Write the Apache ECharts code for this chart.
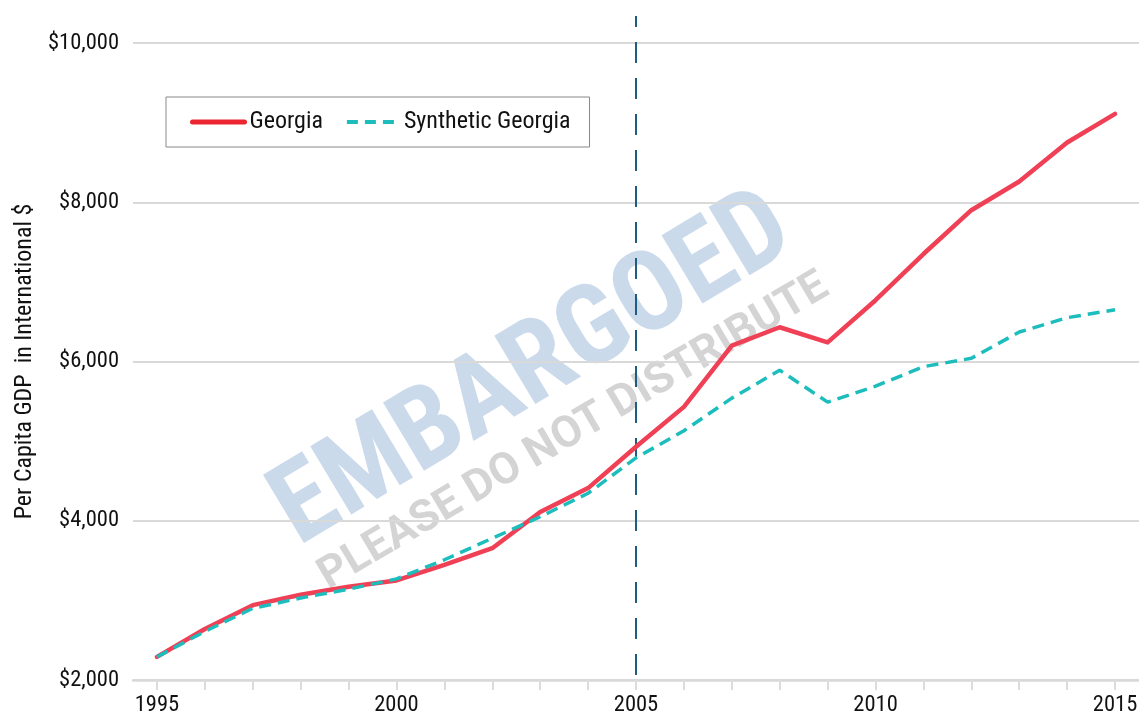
<!DOCTYPE html>
<html>
<head>
<meta charset="utf-8">
<script src="https://cdn.jsdelivr.net/npm/echarts@6/dist/echarts.min.js"></script>
<style>
html,body{margin:0;padding:0;background:#fff;}
#chart{width:1139px;height:720px;}
</style>
</head>
<body>
<div id="chart"></div>
<script>
const years = ['1995','1996','1997','1998','1999','2000','2001','2002','2003','2004','2005','2006','2007','2008','2009','2010','2011','2012','2013','2014','2015'];
const georgia = [2290, 2640, 2940, 3070, 3170, 3250, 3445, 3655, 4110, 4410, 4930, 5430, 6200, 6430, 6240, 6770, 7350, 7900, 8260, 8750, 9110];
const synthetic = [2290, 2610, 2900, 3030, 3140, 3270, 3510, 3780, 4050, 4345, 4790, 5130, 5540, 5890, 5490, 5690, 5935, 6040, 6370, 6550, 6650];
const treatmentYear = '2005';
const yTicks = [2000, 4000, 6000, 8000, 10000];

const FONT = "'Roboto Condensed', 'Liberation Sans Narrow', 'DejaVu Sans Condensed', Roboto, sans-serif";
const RED = '#f04056';
const RED_LEGEND = '#ec2630';
const TEAL = '#1dbdbd';

const chart = echarts.init(document.getElementById('chart'), null, {renderer: 'canvas'});
const option = {
  animation: false,
  backgroundColor: '#fff',
  textStyle: {fontFamily: FONT},
  graphic: [
    {type: 'text', x: 534, y: 372, rotation: 31 * Math.PI / 180, z: 0, silent: true,
     style: {text: 'EMBARGOED', font: "bold 112px " + FONT, fill: '#cbdaeb', align: 'center', verticalAlign: 'middle'}},
    {type: 'text', x: 574, y: 432, rotation: 30.5 * Math.PI / 180, z: 0, silent: true,
     style: {text: 'PLEASE DO NOT DISTRIBUTE', font: "bold 44px Roboto, sans-serif", fill: '#d4d4d4', align: 'center', verticalAlign: 'middle'}}
  ],
  legend: {
    left: 166, top: 97,
    orient: 'horizontal',
    padding: [13, 19, 13, 24],
    itemGap: 22,
    itemWidth: 52,
    itemHeight: 24,
    borderColor: '#888',
    borderWidth: 1,
    borderRadius: 0,
    backgroundColor: '#fff',
    itemStyle: {color: 'transparent', borderWidth: 0, opacity: 0},
    textStyle: {fontFamily: FONT, fontSize: 24, color: '#111'},
    data: [
      {name: 'Georgia', lineStyle: {color: RED_LEGEND, width: 5, cap: 'round', type: 'solid'}, itemStyle: {opacity: 0}},
      {name: 'Synthetic Georgia', lineStyle: {color: TEAL, width: 4, type: [11, 7]}, itemStyle: {opacity: 0}}
    ]
  },
  grid: [
    {left: 133, right: 0, top: 43, bottom: 40, outerBoundsMode: 'none', containLabel: false},
    {left: 133, right: 0, top: 16, bottom: 45, outerBoundsMode: 'none', containLabel: false}
  ],
  xAxis: [
    {type: 'category', gridIndex: 0, data: years, boundaryGap: true,
     axisLine: {show: true, lineStyle: {color: '#d9d9d9', width: 2.5}},
     axisTick: {show: true, alignWithLabel: true, interval: 0, length: 10, lineStyle: {color: '#dcdcdc', width: 2}},
     axisLabel: {interval: 4, margin: 14, fontSize: 22.5, color: '#111', fontFamily: FONT},
     splitLine: {show: false}},
    {type: 'category', gridIndex: 1, data: years, boundaryGap: true, show: false}
  ],
  yAxis: [
    {type: 'value', gridIndex: 0, min: yTicks[0], max: yTicks[yTicks.length - 1], interval: 2000,
     name: 'Per Capita GDP  in International $', nameLocation: 'middle', nameGap: 90, nameRotate: 90,
     nameTextStyle: {fontSize: 24, color: '#111', fontFamily: FONT},
     axisLine: {show: false}, axisTick: {show: false},
     axisLabel: {margin: 14, fontSize: 22.5, color: '#111', fontFamily: FONT,
       formatter: v => '$' + v.toLocaleString('en-US')},
     splitLine: {show: true, lineStyle: {color: '#d9d9d9', width: 2}}},
    {type: 'value', gridIndex: 1, min: 0, max: 1, show: false}
  ],
  series: [
    {name: 'treatment', type: 'line', xAxisIndex: 1, yAxisIndex: 1, symbol: 'none', silent: true,
     data: [[treatmentYear, 0], [treatmentYear, 1]],
     lineStyle: {color: '#1f5d80', width: 2, type: [21, 15]}, z: 1},
    {name: 'Georgia', type: 'line', data: georgia, symbol: 'none', showSymbol: false,
     color: RED, lineStyle: {color: RED, width: 4.5, cap: 'round', join: 'round'}, z: 3},
    {name: 'Synthetic Georgia', type: 'line', data: synthetic, symbol: 'none', showSymbol: false,
     color: TEAL, lineStyle: {color: TEAL, width: 3.5, type: [12, 7]}, z: 4}
  ]
};
chart.setOption(option);
</script>
</body>
</html>
